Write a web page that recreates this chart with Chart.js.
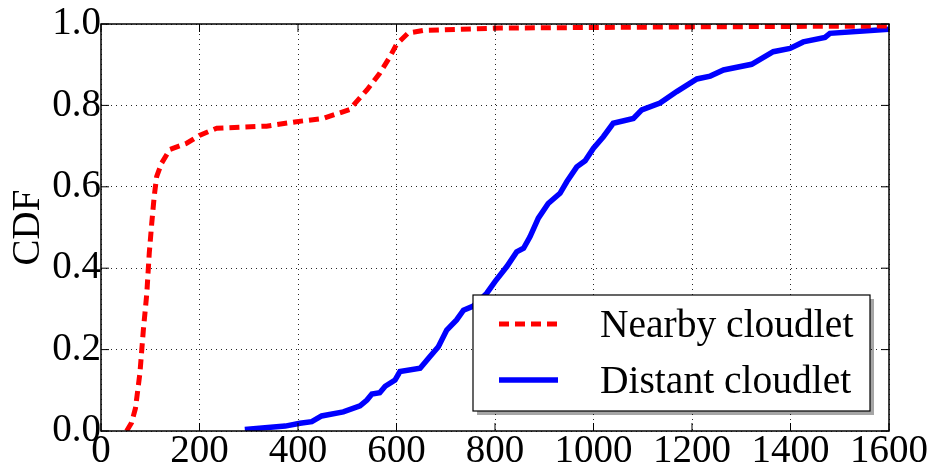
<!DOCTYPE html>
<html>
<head>
<meta charset="utf-8">
<script src="https://cdn.jsdelivr.net/npm/chart.js@4/dist/chart.umd.min.js"></script>
<style>
  html, body { margin: 0; padding: 0; background: #fff; }
  #wrap { width: 936px; height: 474px; }
</style>
</head>
<body>
<div id="wrap"><canvas id="cdfChart"></canvas></div>
<script>
// values
const seriesNames = ['Nearby cloudlet', 'Distant cloudlet'];

const nearbyX = [52, 62, 70, 79, 86, 93, 98, 103, 108, 113, 123, 140, 174, 201, 235, 336, 397, 451, 505, 540, 566, 587, 600, 624, 654, 810, 1200, 1600];
const nearbyY = [0.0, 0.02, 0.056, 0.142, 0.248, 0.338, 0.437, 0.51, 0.576, 0.625, 0.658, 0.692, 0.707, 0.727, 0.744, 0.749, 0.76, 0.768, 0.79, 0.838, 0.879, 0.92, 0.95, 0.978, 0.984, 0.99, 0.993, 0.995];

const distantX = [292, 374, 404, 428, 448, 492, 526, 540, 550, 566, 577, 597, 607, 648, 668, 685, 702, 722, 736, 756, 783, 800, 824, 844, 858, 871, 888, 908, 932, 946, 966, 983, 1000, 1020, 1040, 1081, 1098, 1135, 1169, 1210, 1237, 1264, 1321, 1365, 1399, 1426, 1470, 1480, 1600];
const distantY = [0.004, 0.012, 0.019, 0.023, 0.037, 0.047, 0.062, 0.076, 0.091, 0.094, 0.11, 0.125, 0.146, 0.154, 0.183, 0.207, 0.248, 0.273, 0.297, 0.307, 0.338, 0.367, 0.404, 0.44, 0.449, 0.477, 0.523, 0.559, 0.584, 0.613, 0.649, 0.664, 0.695, 0.723, 0.756, 0.768, 0.789, 0.806, 0.834, 0.865, 0.872, 0.887, 0.901, 0.932, 0.94, 0.956, 0.967, 0.977, 0.987];

const xMin = 0, xMax = 1600, xStep = 200;
const yMin = 0, yMax = 1, yStep = 0.2;

const FONT = "'Liberation Serif', 'Times New Roman', serif";

const toPoints = (xs, ys) => xs.map((x, i) => ({ x, y: ys[i] }));

// black box around the plot plus inward tick marks, like the original
const framePlugin = {
  id: 'frame',
  afterDatasetsDraw(chart) {
    const { ctx, chartArea: a, scales } = chart;
    ctx.save();
    ctx.strokeStyle = '#000';
    ctx.lineWidth = 1.5;
    ctx.strokeRect(a.left, a.top, a.width, a.height);
    ctx.lineWidth = 1;
    ctx.beginPath();
    scales.x.ticks.forEach(t => {
      const px = scales.x.getPixelForValue(t.value);
      ctx.moveTo(px, a.bottom); ctx.lineTo(px, a.bottom - 8);
      ctx.moveTo(px, a.top); ctx.lineTo(px, a.top + 8);
    });
    scales.y.ticks.forEach(t => {
      const py = scales.y.getPixelForValue(t.value);
      ctx.moveTo(a.left, py); ctx.lineTo(a.left + 8, py);
      ctx.moveTo(a.right, py); ctx.lineTo(a.right - 8, py);
    });
    ctx.stroke();
    ctx.restore();
  }
};

// legend box with drop shadow in the lower right corner
const boxLegend = {
  id: 'boxLegend',
  afterDraw(chart) {
    const { ctx, chartArea: a } = chart;
    const w = 397, h = 116;
    const x = a.right - 19 - w;
    const y = a.bottom - 20 - h;
    ctx.save();
    ctx.fillStyle = 'rgba(0,0,0,0.35)';
    ctx.fillRect(x + 4, y + 4, w, h);
    ctx.fillStyle = '#fff';
    ctx.fillRect(x, y, w, h);
    ctx.strokeStyle = '#000';
    ctx.lineWidth = 1.2;
    ctx.strokeRect(x, y, w, h);

    chart.data.datasets.forEach((ds, i) => {
      const cy = y + 29 + i * 56;
      ctx.strokeStyle = ds.borderColor;
      ctx.lineWidth = ds.borderWidth;
      ctx.setLineDash(ds.borderDash || []);
      ctx.beginPath();
      ctx.moveTo(x + 26, cy);
      ctx.lineTo(x + 85, cy);
      ctx.stroke();
      ctx.setLineDash([]);
      ctx.fillStyle = '#000';
      ctx.font = '39.5px ' + FONT;
      ctx.textBaseline = 'middle';
      ctx.fillText(ds.label, x + 127, cy + 3);
    });
    ctx.restore();
  }
};

const ctx = document.getElementById('cdfChart').getContext('2d');
new Chart(ctx, {
  type: 'line',
  data: {
    datasets: [
      {
        label: seriesNames[0],
        data: toPoints(nearbyX, nearbyY),
        borderColor: '#ff0000',
        borderWidth: 5,
        borderDash: [10, 6],
        pointRadius: 0,
        tension: 0
      },
      {
        label: seriesNames[1],
        data: toPoints(distantX, distantY),
        borderColor: '#0000ff',
        borderWidth: 5.5,
        pointRadius: 0,
        tension: 0
      }
    ]
  },
  options: {
    responsive: true,
    maintainAspectRatio: false,
    animation: false,
    layout: { padding: { top: 24, right: 47, left: 0, bottom: 0 } },
    plugins: {
      legend: { display: false },
      tooltip: { enabled: false }
    },
    scales: {
      x: {
        type: 'linear',
        min: xMin,
        max: xMax,
        afterFit: s => { s.height = 43; },
        ticks: {
          stepSize: xStep,
          autoSkip: false,
          maxRotation: 0,
          padding: -3,
          color: '#000',
          font: { family: FONT, size: 39 },
          callback: v => String(v)
        },
        grid: { color: 'rgba(0,0,0,0.85)', lineWidth: 1, drawTicks: false },
        border: { display: false, dash: [1, 4] }
      },
      y: {
        min: yMin,
        max: yMax,
        afterFit: s => { s.width = 101; },
        ticks: {
          stepSize: yStep,
          autoSkip: false,
          padding: 0,
          color: '#000',
          font: { family: FONT, size: 39 },
          callback: v => v.toFixed(1)
        },
        title: {
          display: true,
          text: 'CDF',
          color: '#000',
          font: { family: FONT, size: 39 },
          padding: { top: 5, bottom: 0 }
        },
        grid: { color: 'rgba(0,0,0,0.85)', lineWidth: 1, drawTicks: false },
        border: { display: false, dash: [1, 4] }
      }
    }
  },
  plugins: [framePlugin, boxLegend]
});
</script>
</body>
</html>
